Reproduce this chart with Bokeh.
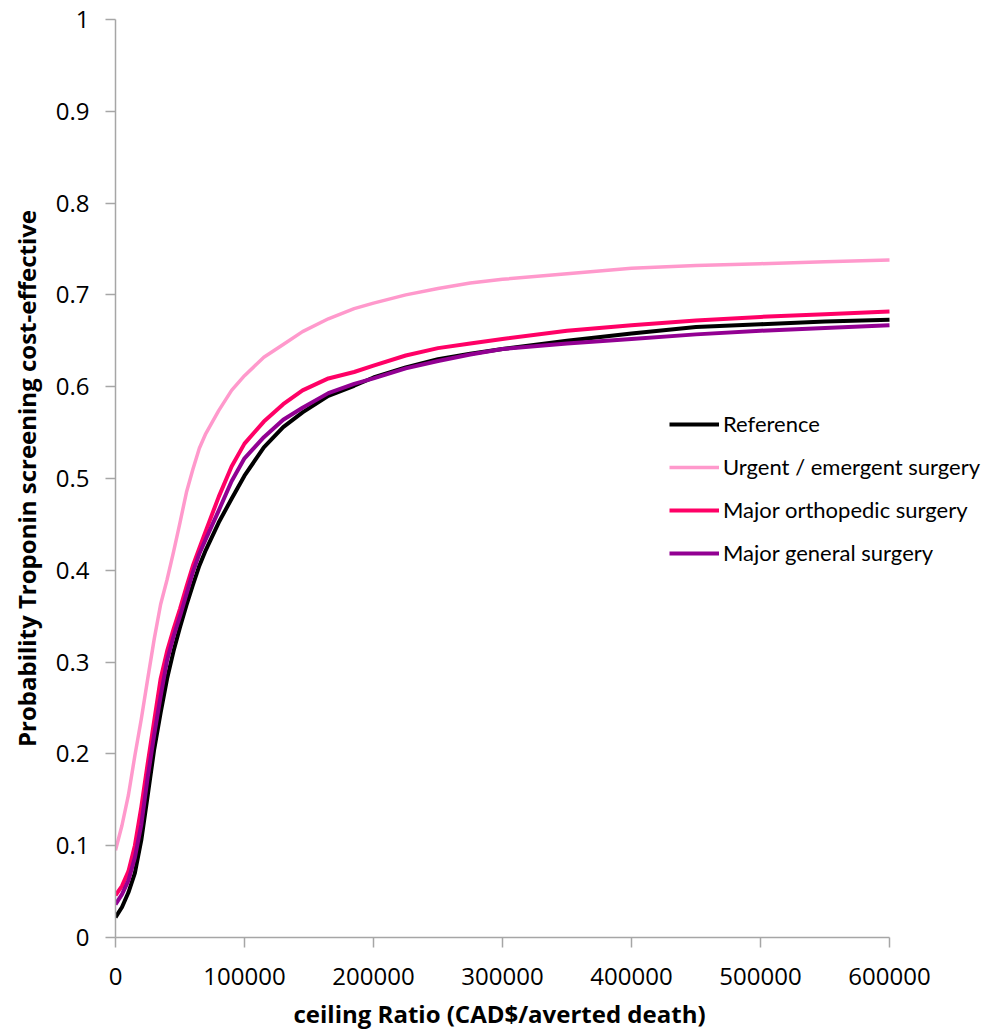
from bokeh.plotting import figure
from bokeh.models import FixedTicker, Legend, LegendItem, Range1d, Title
from bokeh.embed import file_html
from bokeh.resources import INLINE

# Willingness-to-pay ceiling ratio (CAD$ per averted death)
ceiling = [0, 5000, 10000, 15000, 20000, 25000, 30000, 35000, 40000, 45000,
           50000, 55000, 60000, 65000, 70000, 80000, 90000, 100000, 115000,
           130000, 145000, 165000, 185000, 200000, 225000, 250000, 275000,
           300000, 350000, 400000, 450000, 500000, 550000, 600000]

# Probability that troponin screening is cost-effective, per population
reference = [0.022, 0.033, 0.049, 0.070, 0.106, 0.155, 0.205, 0.245, 0.282, 0.312,
             0.338, 0.362, 0.384, 0.405, 0.422, 0.452, 0.478, 0.503, 0.534,
             0.556, 0.572, 0.590, 0.601, 0.610, 0.621, 0.630, 0.636,
             0.641, 0.650, 0.658, 0.665, 0.668, 0.671, 0.673]
urgent = [0.095, 0.122, 0.155, 0.198, 0.238, 0.282, 0.325, 0.363, 0.390, 0.420,
          0.452, 0.485, 0.510, 0.533, 0.549, 0.574, 0.596, 0.612, 0.632,
          0.646, 0.660, 0.674, 0.685, 0.691, 0.700, 0.707, 0.713,
          0.717, 0.723, 0.729, 0.732, 0.734, 0.736, 0.738]
orthopedic = [0.046, 0.056, 0.072, 0.100, 0.142, 0.190, 0.236, 0.282, 0.312, 0.336,
              0.358, 0.382, 0.405, 0.424, 0.443, 0.480, 0.513, 0.538, 0.562,
              0.581, 0.596, 0.609, 0.616, 0.623, 0.634, 0.642, 0.647,
              0.652, 0.661, 0.667, 0.672, 0.676, 0.679, 0.682]
general = [0.036, 0.047, 0.062, 0.087, 0.123, 0.175, 0.221, 0.263, 0.302, 0.328,
           0.350, 0.374, 0.398, 0.418, 0.434, 0.465, 0.497, 0.522, 0.545,
           0.564, 0.577, 0.593, 0.603, 0.609, 0.620, 0.628, 0.635,
           0.641, 0.647, 0.652, 0.657, 0.661, 0.664, 0.667]

series_names = ["Reference", "Urgent / emergent surgery",
                "Major orthopedic surgery", "Major general surgery"]
series_values = [reference, urgent, orthopedic, general]
series_colors = ["#000000", "#FF99CC", "#FF0066", "#920092"]
series_widths = [4, 3.5, 4, 4]

xticks = [0, 100000, 200000, 300000, 400000, 500000, 600000]
xtick_labels = ["0", "100000", "200000", "300000", "400000", "500000", "600000"]
yticks = [0, 0.1, 0.2, 0.3, 0.4, 0.5, 0.6, 0.7, 0.8, 0.9, 1.0]
ytick_labels = ["0", "0.1", "0.2", "0.3", "0.4", "0.5", "0.6", "0.7", "0.8", "0.9", "1"]

# The frame runs to the right edge so the legend has room; the x axis itself
# stops at the last tick.
frame_left, frame_right, x_axis_px = 115, 987, 774
x_end = xticks[-1] * (frame_right - frame_left) / x_axis_px

p = figure(width=987, height=1036, output_backend="svg", toolbar_location=None,
           x_range=Range1d(0, x_end), y_range=Range1d(0, 1),
           min_border_left=frame_left, min_border_right=0,
           min_border_top=19, min_border_bottom=99)
p.outline_line_color = None
p.xgrid.visible = False
p.ygrid.visible = False
p.background_fill_color = "white"
p.border_fill_color = "white"

items = []
for name, vals, col, w in zip(series_names, series_values, series_colors, series_widths):
    r = p.line(ceiling, vals, line_color=col, line_width=w, line_join="round")
    items.append(LegendItem(label=name, renderers=[r]))

axis_col = "#A6A6A6"
for ax in (p.xaxis[0], p.yaxis[0]):
    ax.axis_line_color = axis_col
    ax.axis_line_width = 1.5
    ax.major_tick_line_color = axis_col
    ax.major_tick_line_width = 1.5
    ax.major_tick_out = 10
    ax.major_tick_in = 0
    ax.minor_tick_line_color = None
    ax.major_label_text_font = "Open Sans"
    ax.major_label_text_font_size = "24px"
    ax.major_label_text_color = "#000000"

p.xaxis.bounds = (0, xticks[-1])
p.xaxis.ticker = FixedTicker(ticks=xticks)
p.xaxis.major_label_overrides = dict(zip(xticks, xtick_labels))
p.xaxis.major_label_standoff = 20

# x-axis title, centred under the 0-600000 span of the axis
x_title = Title(text="ceiling Ratio (CAD$/averted death)", align="left", offset=178,
                text_font="Open Sans", text_font_style="bold",
                text_font_size="24px", text_color="#000000", standoff=14)
p.add_layout(x_title, "below")

p.yaxis.ticker = FixedTicker(ticks=yticks)
p.yaxis.major_label_overrides = dict(zip(yticks, ytick_labels))
p.yaxis.major_label_standoff = 16
p.yaxis.axis_label = "Probability Troponin screening cost-effective"
p.yaxis.axis_label_standoff = 10
p.yaxis.axis_label_text_font = "Open Sans"
p.yaxis.axis_label_text_font_style = "bold"
p.yaxis.axis_label_text_font_size = "24px"
p.yaxis.axis_label_text_color = "#000000"

legend = Legend(items=items, location=(554, 371),
                glyph_width=50, glyph_height=20, label_height=20,
                label_standoff=4, spacing=16, padding=0, margin=0,
                border_line_color=None, background_fill_alpha=0,
                label_text_font="Lato", label_text_font_size="22px",
                label_text_color="#000000")
p.add_layout(legend, "center")

open("out.html", "w").write(file_html(p, INLINE))
